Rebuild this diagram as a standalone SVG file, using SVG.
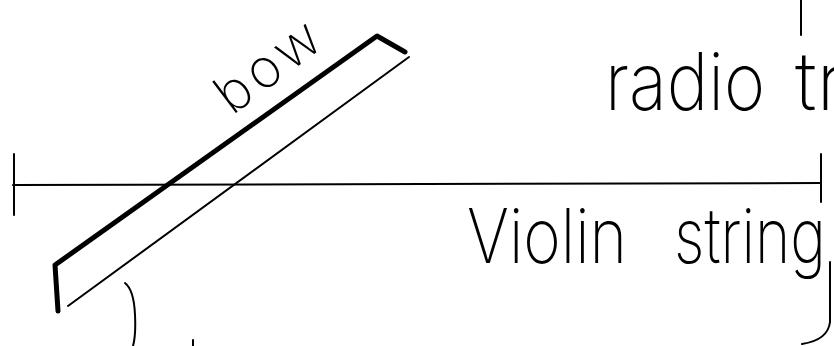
<svg xmlns="http://www.w3.org/2000/svg" width="834" height="346" viewBox="0 0 834 346">
<style>
.ink{fill:none;stroke:#000;stroke-linecap:round;stroke-linejoin:round}
.thin{stroke-width:2}
.thick{stroke-width:5}
.hand{font-family:Inter,"Open Sans","Liberation Sans",sans-serif;font-weight:200;fill:#000}
</style>
<rect width="834" height="346" fill="#fff"/>
<g id="string">
<line class="ink thin" x1="13" y1="185" x2="821" y2="183"/>
<line class="ink thin" x1="14" y1="154" x2="14" y2="215"/>
<line class="ink thin" x1="821" y1="154" x2="821" y2="202"/>
</g>
<g id="bow">
<polyline class="ink thick" points="58,311 55,265 377,36 405,52"/>
<line class="ink thin" x1="68" y1="306" x2="409" y2="57"/>
</g>
<g id="labels">
<text class="hand" font-size="54" transform="translate(232,116) rotate(-37)" letter-spacing="5">bow</text>
<text class="hand" font-size="80" x="605" y="110" textLength="160" lengthAdjust="spacingAndGlyphs">radio</text>
<text class="hand" font-size="80" x="795" y="110">tr</text>
<text class="hand" font-size="76" x="467" y="263" textLength="160" lengthAdjust="spacingAndGlyphs">Violin</text>
<text class="hand" font-size="76" x="674" y="263" textLength="152" lengthAdjust="spacingAndGlyphs">string</text>
</g>
<g id="strokes">
<line class="ink thin" x1="801" y1="0" x2="801" y2="35"/>
<path class="ink thin" d="M830,262 L830,322 Q828,340 802,344"/>
<path class="ink thin" d="M125,283 Q134,290 135,315 Q136,335 133,346"/>
<line class="ink thin" x1="193" y1="340" x2="193" y2="346"/>
</g>
</svg>
